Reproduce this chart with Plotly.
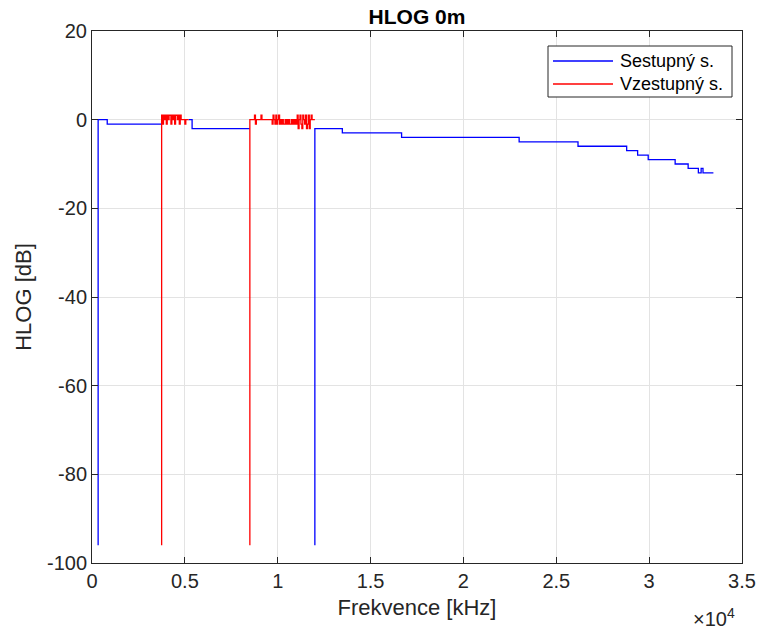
import plotly.graph_objects as go

# ---------------- data ----------------
# Downstream (Sestupný s.) step breakpoints, kHz / dB  (None = gap)
down_freq = [330, 330, 820, 3750, None,
             5200, 5390, 8500, None,
             12000, 12000, 13480, 16670, 23000, 26170, 28790, 29380,
             29950, 31400, 32100, 32650, 32800, 32900, 33460]
down_hlog = [-96, 0, -1, -1, None,
             0, -2, -2, None,
             -96, -2, -3, -4, -5, -6, -7, -8,
             -9, -10, -11, -12, -11, -12, -12]

# Upstream (Vzestupný s.) bands
up1_start, up1_end, up_step = 3750, 5200, 50
up1_vals = [1, -1, 1, 0, 1, -1, 1, 0, 1, 1, -1, 1, 0, 1, -1, 1, 1, 0, 1, -1, 1, 0,
            0, 0, 0, -1, 0, 0, 0]
up2_start, up2_end = 8500, 12000
up2_vals = [0, 0, 0, 0, 0,
            1, -1, 0,
            0, 0, 0, 0, 1, 0, 0, 0, 0, 0, 0, 0, 0, 0, 0, 0,
            -1, 1, 0, -1, 1, -1, 0, 1,
            -1, 0, -1, 0, -1, -1, 0, -1, 0, -1, 0, -1, -1, 0, -1, 0, -1, 0, -1,
            1, -2, 0, 1, -1, -2, 1, 0, -1, 1, -2, -1, 1, -2, 0, 1,
            0, 0, 0]
floor_db = -96

series_names = ["Sestupný s.", "Vzestupný s."]
series_colors = ["#0000ff", "#ff0000"]

x_tick_vals = [0, 5000, 10000, 15000, 20000, 25000, 30000, 35000]
x_tick_text = ["0", "0.5", "1", "1.5", "2", "2.5", "3", "3.5"]
y_tick_vals = [-100, -80, -60, -40, -20, 0, 20]
y_tick_text = ["-100", "-80", "-60", "-40", "-20", "0", "20"]

# build upstream trace (vertical start from floor, gap between bands)
up_freq, up_hlog = [], []
for start, end, vals in [(up1_start, up1_end, up1_vals), (up2_start, up2_end, up2_vals)]:
    up_freq += [start]
    up_hlog += [floor_db]
    up_freq += [start + i * up_step for i in range(len(vals))]
    up_hlog += vals
    up_freq += [end, None]
    up_hlog += [vals[-1], None]

fig = go.Figure()
fig.add_trace(go.Scatter(x=down_freq, y=down_hlog, mode="lines", name=series_names[0],
                         line=dict(color=series_colors[0], width=1.3, shape="hv"),
                         connectgaps=False, showlegend=False))
fig.add_trace(go.Scatter(x=up_freq, y=up_hlog, mode="lines", name=series_names[1],
                         line=dict(color=series_colors[1], width=1.3, shape="hv"),
                         connectgaps=False, showlegend=False))

axis_col = "#262626"
grid_col = "#e3e3e3"
font_family = "Liberation Sans, Arial, sans-serif"

# plot area in pixels
PL, PR, PT, PB = 92, 742, 31, 563
def px(x):
    return (x - PL) / (PR - PL)
def py(y):
    return (PB - y) / (PB - PT)

fig.update_layout(
    width=762, height=630,
    margin=dict(l=PL, r=762 - PR, t=PT, b=630 - PB, autoexpand=False),
    paper_bgcolor="white", plot_bgcolor="white",
    font=dict(family=font_family, size=20, color=axis_col),
    title=dict(text="<b>HLOG 0m</b>", x=(PL + PR) / 2 / 762, xanchor="center",
               y=1 - 17 / 630, yanchor="middle", font=dict(size=21, color="black")),
    showlegend=False,
)
fig.update_xaxes(range=[0, 35000], tickvals=x_tick_vals, ticktext=x_tick_text,
                 automargin=False,
                 showgrid=True, gridcolor=grid_col, gridwidth=1, zeroline=False,
                 showline=True, linecolor=axis_col, linewidth=1, mirror="ticks",
                 ticks="inside", ticklen=6, tickcolor=axis_col,
                 tickfont=dict(size=20, color=axis_col),
                 title=dict(text="Frekvence [kHz]", font=dict(size=22, color=axis_col), standoff=8))
fig.update_yaxes(range=[-100, 20], tickvals=y_tick_vals, ticktext=y_tick_text,
                 automargin=False,
                 showgrid=True, gridcolor=grid_col, gridwidth=1, zeroline=False,
                 showline=True, linecolor=axis_col, linewidth=1, mirror="ticks",
                 ticks="inside", ticklen=6, tickcolor=axis_col,
                 tickfont=dict(size=20, color=axis_col),
                 title=dict(text="HLOG [dB]", font=dict(size=22, color=axis_col), standoff=9))
fig.add_annotation(text="×10<sup>4</sup>", xref="paper", yref="paper", x=px(737),
                   y=-0.075, xanchor="right", yanchor="top", showarrow=False,
                   font=dict(size=20, color=axis_col))

# legend box drawn like MATLAB's (long line samples)
fig.add_shape(type="rect", xref="paper", yref="paper",
              x0=px(548), x1=px(732), y0=py(97), y1=py(46),
              line=dict(color=axis_col, width=1), fillcolor="white", layer="above")
for i, (name, col) in enumerate(zip(series_names, series_colors)):
    yrow = 61 + i * 23
    fig.add_shape(type="line", xref="paper", yref="paper",
                  x0=px(553), x1=px(613), y0=py(yrow), y1=py(yrow),
                  line=dict(color=col, width=1.3), layer="above")
    fig.add_annotation(text=name, xref="paper", yref="paper", x=px(618), y=py(yrow),
                       xanchor="left", yanchor="middle", showarrow=False,
                       font=dict(size=18, color="black"))

fig.write_html("out.html", post_script="document.body.style.margin='0';",
               config={"displayModeBar": False})
